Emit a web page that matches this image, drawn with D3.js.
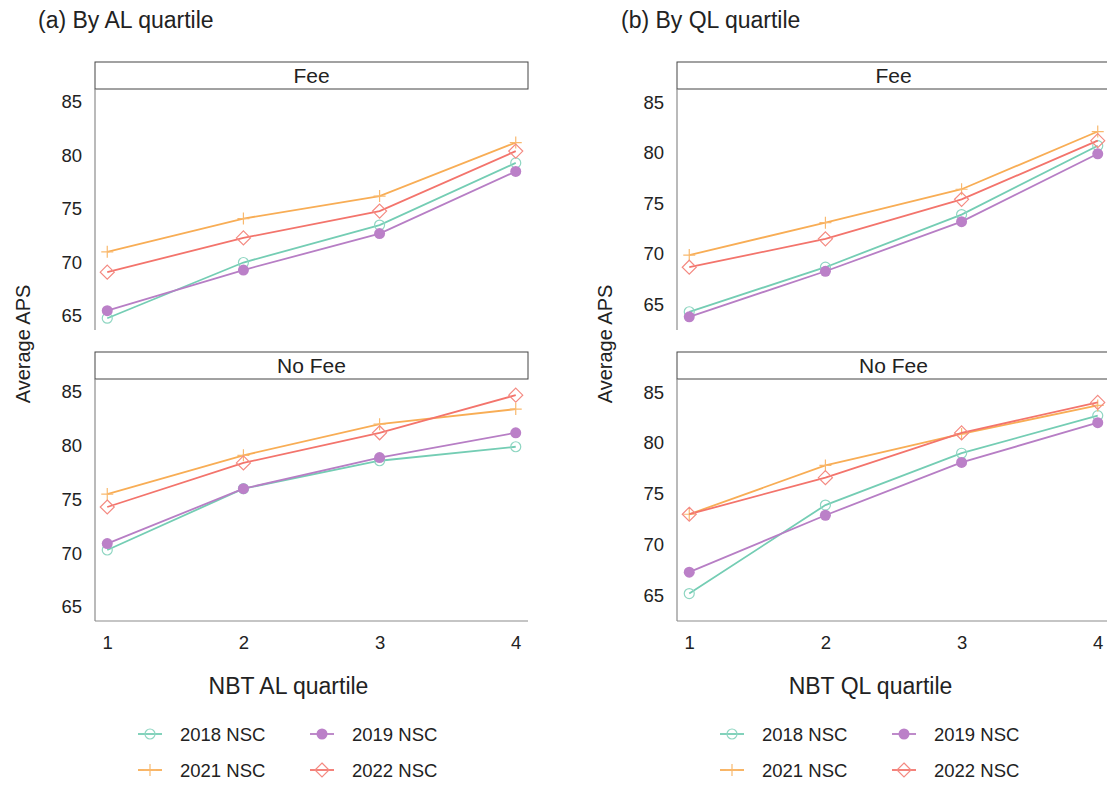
<html>
  <head>
    <meta charset="utf-8">
    <style>
      body { margin: 0; background: #fff; }
      text { font-family: "Liberation Sans", Arial, sans-serif; fill: #222; }
      .axis-line { stroke: #8c8c8c; stroke-width: 1.2px; fill: none; }
      .strip { fill: #fff; stroke: #444; stroke-width: 1px; }
      .line { fill: none; stroke-width: 1.8px; }
    </style>
  </head>
<body>
  <svg width="1107" height="785"></svg>
  <script src="https://d3js.org/d3.v7.min.js"></script>
  <script>
    // quartiles on the x axis, series in draw order
    var quartiles = [1, 2, 3, 4];
    var seriesNames = ["2018 NSC", "2019 NSC", "2021 NSC", "2022 NSC"];
    var yTicks = [65, 70, 75, 80, 85];

    // values, one row per series (2018, 2019, 2021, 2022)
    var alFee = [
      [64.8, 70.0, 73.5, 79.3],
      [65.5, 69.3, 72.7, 78.5],
      [71.0, 74.1, 76.2, 81.2],
      [69.1, 72.3, 74.8, 80.4]
    ];
    var alNoFee = [
      [70.3, 76.0, 78.6, 79.9],
      [70.9, 76.0, 78.9, 81.2],
      [75.5, 79.1, 82.0, 83.4],
      [74.3, 78.4, 81.2, 84.7]
    ];
    var qlFee = [
      [64.3, 68.7, 73.9, 80.7],
      [63.8, 68.3, 73.2, 79.9],
      [69.9, 73.1, 76.4, 82.1],
      [68.7, 71.5, 75.4, 81.2]
    ];
    var qlNoFee = [
      [65.2, 73.9, 79.0, 82.7],
      [67.3, 72.9, 78.1, 82.0],
      [73.0, 77.8, 80.9, 83.7],
      [73.0, 76.6, 81.0, 84.0]
    ];

    var lineColors = ["#74cdb4", "#b77ec5", "#f8ad55", "#f3746c"];
    var markColors = ["#8fd6c2", "#bb80c8", "#f9b96e", "#f48a82"];
    var shapes = ["circle", "dot", "plus", "diamond"];

    var svg = d3.select("svg");

    var columns = [
      {title: "(a) By AL quartile", xlab: "NBT AL quartile", left: 95, yDomain: [63.7, 86.2], fee: alFee, nofee: alNoFee, titleX: 38, ylabX: 23},
      {title: "(b) By QL quartile", xlab: "NBT QL quartile", left: 677, yDomain: [62.5, 86.3], fee: qlFee, nofee: qlNoFee, titleX: 621, ylabX: 605}
    ];
    var rows = [
      {strip: "Fee", stripTop: 62, top: 89, bottom: 330, key: "fee", bottomAxis: false},
      {strip: "No Fee", stripTop: 352, top: 379, bottom: 621, key: "nofee", bottomAxis: true}
    ];
    var panelW = 433;

    function drawMarker(g, shape, x, y, color) {
      if (shape === "circle") {
        g.append("circle").attr("cx", x).attr("cy", y).attr("r", 5)
          .attr("fill", "none").attr("stroke", color).attr("stroke-width", 1.2);
      } else if (shape === "dot") {
        g.append("circle").attr("cx", x).attr("cy", y).attr("r", 5.5)
          .attr("fill", color);
      } else if (shape === "plus") {
        g.append("path").attr("d", "M" + (x - 6) + "," + y + "H" + (x + 6) + "M" + x + "," + (y - 6) + "V" + (y + 6))
          .attr("stroke", color).attr("stroke-width", 1.2).attr("fill", "none");
      } else {
        g.append("path").attr("d", "M" + x + "," + (y - 7) + "L" + (x + 7) + "," + y + "L" + x + "," + (y + 7) + "L" + (x - 7) + "," + y + "Z")
          .attr("stroke", color).attr("stroke-width", 1.2).attr("fill", "none");
      }
    }

    columns.forEach(function(col) {
      var x = d3.scaleLinear().domain([0.91, 4.09]).range([col.left, col.left + panelW]);

      svg.append("text")
        .attr("x", col.titleX).attr("y", 28)
        .style("font-size", "23px")
        .text(col.title);

      rows.forEach(function(row) {
        var y = d3.scaleLinear().domain(col.yDomain).range([row.bottom, row.top]);
        var g = svg.append("g");

        // facet strip
        g.append("rect").attr("class", "strip")
          .attr("x", col.left).attr("y", row.stripTop)
          .attr("width", panelW).attr("height", row.top - row.stripTop);
        g.append("text")
          .attr("x", col.left + panelW / 2).attr("y", (row.stripTop + row.top) / 2)
          .attr("dy", "0.36em").attr("text-anchor", "middle")
          .style("font-size", "21px")
          .text(row.strip);

        // y axis
        var yAxis = g.append("g")
          .attr("transform", "translate(" + col.left + ",0)")
          .call(d3.axisLeft(y).tickValues(yTicks).tickSize(0).tickPadding(13));
        yAxis.select(".domain").remove();
        yAxis.selectAll("text").style("font-size", "18.5px").attr("fill", "#222")
          .style("font-family", "'Liberation Sans', Arial, sans-serif");
        g.append("line").attr("class", "axis-line")
          .attr("x1", col.left).attr("x2", col.left)
          .attr("y1", row.top).attr("y2", row.bottom);

        if (row.bottomAxis) {
          var xAxis = g.append("g")
            .attr("transform", "translate(0," + row.bottom + ")")
            .call(d3.axisBottom(x).tickValues(quartiles).tickSize(0).tickPadding(15).tickFormat(d3.format("d")));
          xAxis.select(".domain").remove();
          xAxis.selectAll("text").style("font-size", "18.5px").attr("fill", "#222")
            .style("font-family", "'Liberation Sans', Arial, sans-serif");
          g.append("line").attr("class", "axis-line")
            .attr("x1", col.left).attr("x2", col.left + panelW)
            .attr("y1", row.bottom).attr("y2", row.bottom);
        }

        var line = d3.line()
          .x(function(d, i) { return x(quartiles[i]); })
          .y(function(d) { return y(d); });

        col[row.key].forEach(function(vals, s) {
          g.append("path")
            .datum(vals)
            .attr("class", "line")
            .attr("stroke", lineColors[s])
            .attr("d", line);
          vals.forEach(function(v, i) {
            drawMarker(g, shapes[s], x(quartiles[i]), y(v), markColors[s]);
          });
        });
      });

      // axis titles
      svg.append("text")
        .attr("transform", "translate(" + col.ylabX + ",344) rotate(-90)")
        .attr("text-anchor", "middle").attr("dy", "0.36em")
        .style("font-size", "20px")
        .text("Average APS");
      svg.append("text")
        .attr("x", col.left + panelW / 2 - 23).attr("y", 686)
        .attr("dy", "0.36em").attr("text-anchor", "middle")
        .style("font-size", "23px")
        .text(col.xlab);

      // legend
      var legX = [col.left + 55, col.left + 227];
      var legY = [734, 770];
      seriesNames.forEach(function(name, s) {
        var lx = legX[s % 2], ly = legY[Math.floor(s / 2)];
        var lg = svg.append("g");
        lg.append("line")
          .attr("x1", lx - 12).attr("x2", lx + 12)
          .attr("y1", ly).attr("y2", ly)
          .attr("stroke", lineColors[s]).attr("stroke-width", 1.8);
        drawMarker(lg, shapes[s], lx, ly, markColors[s]);
        lg.append("text")
          .attr("x", lx + 30).attr("y", ly).attr("dy", "0.36em")
          .style("font-size", "18.5px")
          .text(name);
      });
    });
  </script>
  </body>
</html>
